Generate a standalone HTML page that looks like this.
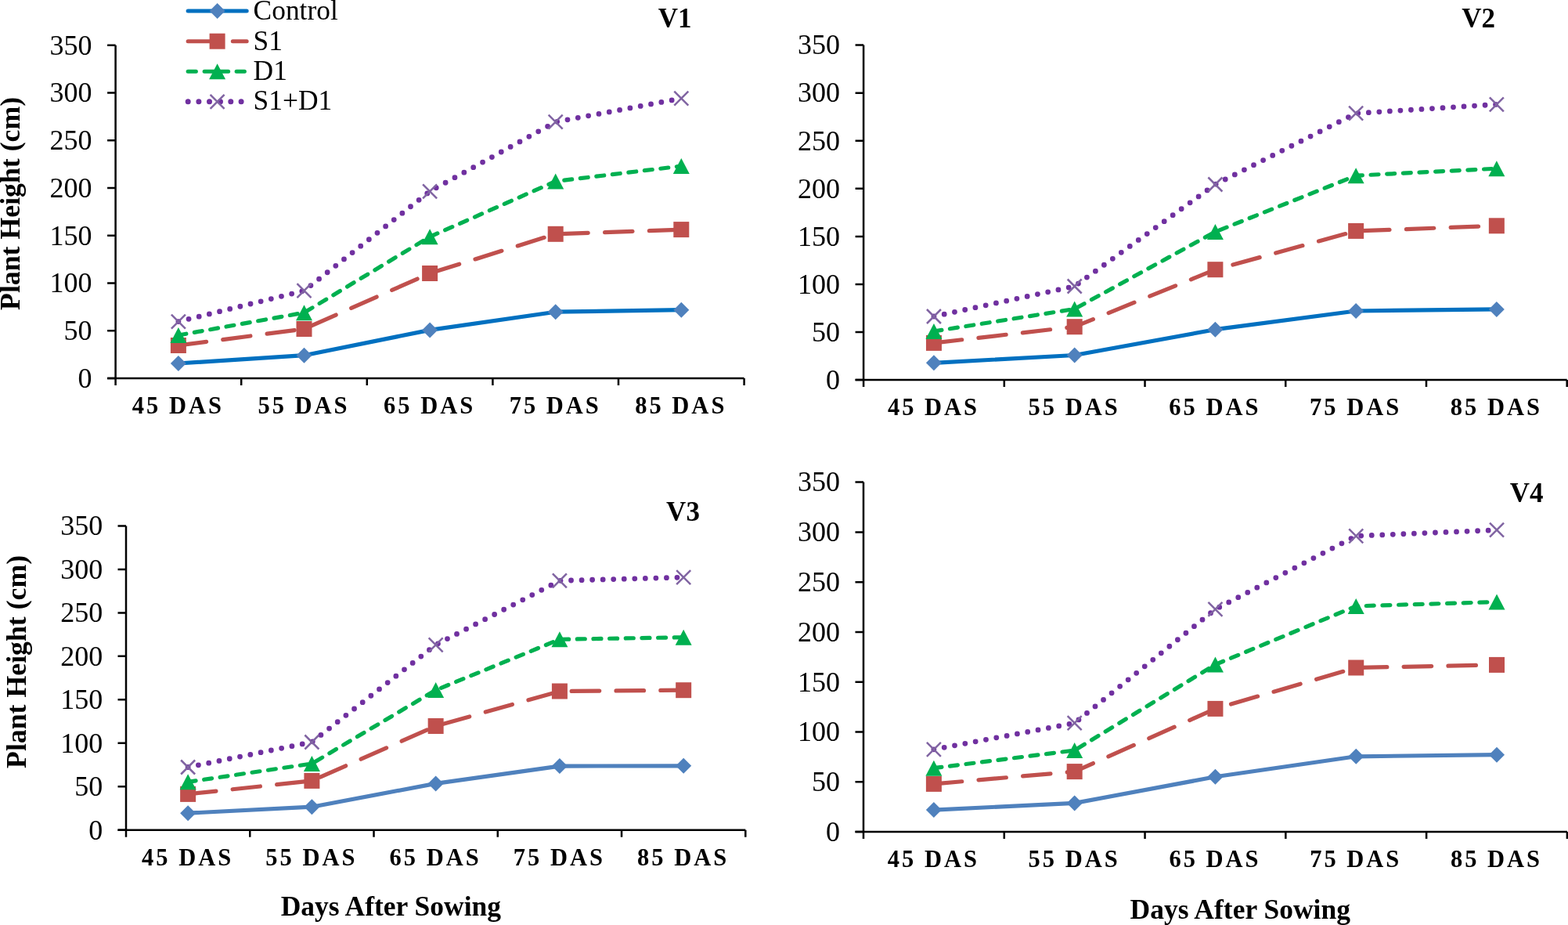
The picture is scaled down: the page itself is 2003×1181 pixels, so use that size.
<!DOCTYPE html><html><head><meta charset="utf-8"><title>Plant Height</title><style>html,body{margin:0;padding:0;background:#fff;overflow:hidden}svg{display:block}text{font-family:"Liberation Serif","Times New Roman",serif;fill:#000}.yl{font-size:36px;text-anchor:end}.xl{font-size:30.5px;font-weight:bold;letter-spacing:3px;text-anchor:middle}.tt{font-size:35px;font-weight:bold;text-anchor:middle}.at{font-size:35.75px;font-weight:bold;text-anchor:middle}.lg{font-size:35.4px}</style></head><body>
<svg width="2003" height="1181" viewBox="0 0 2003 1181">
<rect width="2003" height="1181" fill="#fff"/>
<g><path d="M147.6 57.8V483.1M137.1 483.1H950.6" stroke="#000" stroke-width="2.5" fill="none"/><path d="M137.1 483.1H147.6M137.1 422.34H147.6M137.1 361.59H147.6M137.1 300.83H147.6M137.1 240.07H147.6M137.1 179.31H147.6M137.1 118.56H147.6M137.1 57.8H147.6M147.6 483.1V492.1M308.2 483.1V492.1M468.8 483.1V492.1M629.4 483.1V492.1M790 483.1V492.1M950.6 483.1V492.1" stroke="#000" stroke-width="2.5" fill="none"/><text class="yl" x="117.5" y="494.9">0</text><text class="yl" x="117.5" y="434.14">50</text><text class="yl" x="117.5" y="373.39">100</text><text class="yl" x="117.5" y="312.63">150</text><text class="yl" x="117.5" y="251.87">200</text><text class="yl" x="117.5" y="191.11">250</text><text class="yl" x="117.5" y="130.36">300</text><text class="yl" x="117.5" y="69.6">350</text><text class="xl" x="227.4" y="528.1">45 DAS</text><text class="xl" x="388" y="528.1">55 DAS</text><text class="xl" x="548.6" y="528.1">65 DAS</text><text class="xl" x="709.2" y="528.1">75 DAS</text><text class="xl" x="869.8" y="528.1">85 DAS</text><polyline points="227.9,464 388.5,453.7 549.1,421.4 709.7,398.2 870.3,395.7" fill="none" stroke="#0070C0" stroke-width="5.2" stroke-linejoin="round" stroke-linecap="round"/><path d="M227.9 454L237.9 464L227.9 474L217.9 464Z" fill="#4F81BD"/><path d="M388.5 443.7L398.5 453.7L388.5 463.7L378.5 453.7Z" fill="#4F81BD"/><path d="M549.1 411.4L559.1 421.4L549.1 431.4L539.1 421.4Z" fill="#4F81BD"/><path d="M709.7 388.2L719.7 398.2L709.7 408.2L699.7 398.2Z" fill="#4F81BD"/><path d="M870.3 385.7L880.3 395.7L870.3 405.7L860.3 395.7Z" fill="#4F81BD"/><polyline points="227.9,441 388.5,420 549.1,349 709.7,298.8 870.3,293.1" fill="none" stroke="#C0504D" stroke-width="5.2" stroke-dasharray="35.5 21.32" stroke-dashoffset="-0.5" stroke-linejoin="round" stroke-linecap="round"/><rect x="217.9" y="431" width="20" height="20" fill="#C0504D"/><rect x="378.5" y="410" width="20" height="20" fill="#C0504D"/><rect x="539.1" y="339" width="20" height="20" fill="#C0504D"/><rect x="699.7" y="288.8" width="20" height="20" fill="#C0504D"/><rect x="860.3" y="283.1" width="20" height="20" fill="#C0504D"/><polyline points="227.9,428 388.5,399.2 549.1,302.3 709.7,231.5 870.3,212" fill="none" stroke="#00B050" stroke-width="5.2" stroke-dasharray="10 10.665" stroke-dashoffset="-0.1" stroke-linejoin="round" stroke-linecap="round"/><path d="M227.9 418L238.4 438L217.4 438Z" fill="#00B050"/><path d="M388.5 389.2L399 409.2L378 409.2Z" fill="#00B050"/><path d="M549.1 292.3L559.6 312.3L538.6 312.3Z" fill="#00B050"/><path d="M709.7 221.5L720.2 241.5L699.2 241.5Z" fill="#00B050"/><path d="M870.3 202L880.8 222L859.8 222Z" fill="#00B050"/><polyline points="227.9,410.6 388.5,371.2 549.1,244.3 709.7,155.7 870.3,125.7" fill="none" stroke="#7030A0" stroke-width="6.8" stroke-dasharray="0 13.548" stroke-linejoin="round" stroke-linecap="round"/><path d="M218.9 401.6L236.9 419.6M236.9 401.6L218.9 419.6" stroke="#8064A2" stroke-width="2.5" fill="none"/><path d="M379.5 362.2L397.5 380.2M397.5 362.2L379.5 380.2" stroke="#8064A2" stroke-width="2.5" fill="none"/><path d="M540.1 235.3L558.1 253.3M558.1 235.3L540.1 253.3" stroke="#8064A2" stroke-width="2.5" fill="none"/><path d="M700.7 146.7L718.7 164.7M718.7 146.7L700.7 164.7" stroke="#8064A2" stroke-width="2.5" fill="none"/><path d="M861.3 116.7L879.3 134.7M879.3 116.7L861.3 134.7" stroke="#8064A2" stroke-width="2.5" fill="none"/><text class="tt" x="862.1" y="34.9">V1</text></g>
<g><path d="M1103.1 57.6V485.1M1092.6 485.1H2001.7" stroke="#000" stroke-width="2.5" fill="none"/><path d="M1092.6 485.1H1103.1M1092.6 424.03H1103.1M1092.6 362.96H1103.1M1092.6 301.89H1103.1M1092.6 240.81H1103.1M1092.6 179.74H1103.1M1092.6 118.67H1103.1M1092.6 57.6H1103.1M1103.1 485.1V494.1M1282.82 485.1V494.1M1462.54 485.1V494.1M1642.26 485.1V494.1M1821.98 485.1V494.1M2001.7 485.1V494.1" stroke="#000" stroke-width="2.5" fill="none"/><text class="yl" x="1073" y="496.9">0</text><text class="yl" x="1073" y="435.83">50</text><text class="yl" x="1073" y="374.76">100</text><text class="yl" x="1073" y="313.69">150</text><text class="yl" x="1073" y="252.61">200</text><text class="yl" x="1073" y="191.54">250</text><text class="yl" x="1073" y="130.47">300</text><text class="yl" x="1073" y="69.4">350</text><text class="xl" x="1192.46" y="530.1">45 DAS</text><text class="xl" x="1372.18" y="530.1">55 DAS</text><text class="xl" x="1551.9" y="530.1">65 DAS</text><text class="xl" x="1731.62" y="530.1">75 DAS</text><text class="xl" x="1911.34" y="530.1">85 DAS</text><polyline points="1192.96,463.3 1372.68,453.5 1552.4,420.7 1732.12,397 1911.84,394.9" fill="none" stroke="#0070C0" stroke-width="5.2" stroke-linejoin="round" stroke-linecap="round"/><path d="M1192.96 453.3L1202.96 463.3L1192.96 473.3L1182.96 463.3Z" fill="#4F81BD"/><path d="M1372.68 443.5L1382.68 453.5L1372.68 463.5L1362.68 453.5Z" fill="#4F81BD"/><path d="M1552.4 410.7L1562.4 420.7L1552.4 430.7L1542.4 420.7Z" fill="#4F81BD"/><path d="M1732.12 387L1742.12 397L1732.12 407L1722.12 397Z" fill="#4F81BD"/><path d="M1911.84 384.9L1921.84 394.9L1911.84 404.9L1901.84 394.9Z" fill="#4F81BD"/><polyline points="1192.96,437.9 1372.68,417.2 1552.4,344.2 1732.12,294.9 1911.84,288.3" fill="none" stroke="#C0504D" stroke-width="5.2" stroke-dasharray="35.5 21.32" stroke-dashoffset="-0.5" stroke-linejoin="round" stroke-linecap="round"/><rect x="1182.96" y="427.9" width="20" height="20" fill="#C0504D"/><rect x="1362.68" y="407.2" width="20" height="20" fill="#C0504D"/><rect x="1542.4" y="334.2" width="20" height="20" fill="#C0504D"/><rect x="1722.12" y="284.9" width="20" height="20" fill="#C0504D"/><rect x="1901.84" y="278.3" width="20" height="20" fill="#C0504D"/><polyline points="1192.96,423 1372.68,394.5 1552.4,296 1732.12,224.2 1911.84,215.2" fill="none" stroke="#00B050" stroke-width="5.2" stroke-dasharray="10 10.665" stroke-dashoffset="-0.1" stroke-linejoin="round" stroke-linecap="round"/><path d="M1192.96 413L1203.46 433L1182.46 433Z" fill="#00B050"/><path d="M1372.68 384.5L1383.18 404.5L1362.18 404.5Z" fill="#00B050"/><path d="M1552.4 286L1562.9 306L1541.9 306Z" fill="#00B050"/><path d="M1732.12 214.2L1742.62 234.2L1721.62 234.2Z" fill="#00B050"/><path d="M1911.84 205.2L1922.34 225.2L1901.34 225.2Z" fill="#00B050"/><polyline points="1192.96,404 1372.68,365.5 1552.4,235.5 1732.12,144.7 1911.84,133.3" fill="none" stroke="#7030A0" stroke-width="6.8" stroke-dasharray="0 13.548" stroke-linejoin="round" stroke-linecap="round"/><path d="M1183.96 395L1201.96 413M1201.96 395L1183.96 413" stroke="#8064A2" stroke-width="2.5" fill="none"/><path d="M1363.68 356.5L1381.68 374.5M1381.68 356.5L1363.68 374.5" stroke="#8064A2" stroke-width="2.5" fill="none"/><path d="M1543.4 226.5L1561.4 244.5M1561.4 226.5L1543.4 244.5" stroke="#8064A2" stroke-width="2.5" fill="none"/><path d="M1723.12 135.7L1741.12 153.7M1741.12 135.7L1723.12 153.7" stroke="#8064A2" stroke-width="2.5" fill="none"/><path d="M1902.84 124.3L1920.84 142.3M1920.84 124.3L1902.84 142.3" stroke="#8064A2" stroke-width="2.5" fill="none"/><text class="tt" x="1888.6" y="35.2">V2</text></g>
<g><path d="M161 671.5V1059.7M150.5 1059.7H952.3" stroke="#000" stroke-width="2.5" fill="none"/><path d="M150.5 1059.7H161M150.5 1004.24H161M150.5 948.79H161M150.5 893.33H161M150.5 837.87H161M150.5 782.41H161M150.5 726.96H161M150.5 671.5H161M161 1059.7V1068.7M319.26 1059.7V1068.7M477.52 1059.7V1068.7M635.78 1059.7V1068.7M794.04 1059.7V1068.7M952.3 1059.7V1068.7" stroke="#000" stroke-width="2.5" fill="none"/><text class="yl" x="131.2" y="1071.5">0</text><text class="yl" x="131.2" y="1016.04">50</text><text class="yl" x="131.2" y="960.59">100</text><text class="yl" x="131.2" y="905.13">150</text><text class="yl" x="131.2" y="849.67">200</text><text class="yl" x="131.2" y="794.21">250</text><text class="yl" x="131.2" y="738.76">300</text><text class="yl" x="131.2" y="683.3">350</text><text class="xl" x="239.63" y="1104.7">45 DAS</text><text class="xl" x="397.89" y="1104.7">55 DAS</text><text class="xl" x="556.15" y="1104.7">65 DAS</text><text class="xl" x="714.41" y="1104.7">75 DAS</text><text class="xl" x="872.67" y="1104.7">85 DAS</text><polyline points="240.13,1038.2 398.39,1030.2 556.65,1000.4 714.91,978.1 873.17,977.8" fill="none" stroke="#4F81BD" stroke-width="5.2" stroke-linejoin="round" stroke-linecap="round"/><path d="M240.13 1028.2L250.13 1038.2L240.13 1048.2L230.13 1038.2Z" fill="#4F81BD"/><path d="M398.39 1020.2L408.39 1030.2L398.39 1040.2L388.39 1030.2Z" fill="#4F81BD"/><path d="M556.65 990.4L566.65 1000.4L556.65 1010.4L546.65 1000.4Z" fill="#4F81BD"/><path d="M714.91 968.1L724.91 978.1L714.91 988.1L704.91 978.1Z" fill="#4F81BD"/><path d="M873.17 967.8L883.17 977.8L873.17 987.8L863.17 977.8Z" fill="#4F81BD"/><polyline points="240.13,1013.9 398.39,996.9 556.65,927 714.91,882.5 873.17,881.2" fill="none" stroke="#C0504D" stroke-width="5.2" stroke-dasharray="35.5 21.32" stroke-dashoffset="-0.5" stroke-linejoin="round" stroke-linecap="round"/><rect x="230.13" y="1003.9" width="20" height="20" fill="#C0504D"/><rect x="388.39" y="986.9" width="20" height="20" fill="#C0504D"/><rect x="546.65" y="917" width="20" height="20" fill="#C0504D"/><rect x="704.91" y="872.5" width="20" height="20" fill="#C0504D"/><rect x="863.17" y="871.2" width="20" height="20" fill="#C0504D"/><polyline points="240.13,998.3 398.39,975 556.65,881.1 714.91,816.3 873.17,813.7" fill="none" stroke="#00B050" stroke-width="5.2" stroke-dasharray="10 10.665" stroke-dashoffset="-0.1" stroke-linejoin="round" stroke-linecap="round"/><path d="M240.13 988.3L250.63 1008.3L229.63 1008.3Z" fill="#00B050"/><path d="M398.39 965L408.89 985L387.89 985Z" fill="#00B050"/><path d="M556.65 871.1L567.15 891.1L546.15 891.1Z" fill="#00B050"/><path d="M714.91 806.3L725.41 826.3L704.41 826.3Z" fill="#00B050"/><path d="M873.17 803.7L883.67 823.7L862.67 823.7Z" fill="#00B050"/><polyline points="240.13,979.5 398.39,947.5 556.65,823.3 714.91,741.4 873.17,737.1" fill="none" stroke="#7030A0" stroke-width="6.8" stroke-dasharray="0 13.548" stroke-linejoin="round" stroke-linecap="round"/><path d="M231.13 970.5L249.13 988.5M249.13 970.5L231.13 988.5" stroke="#8064A2" stroke-width="2.5" fill="none"/><path d="M389.39 938.5L407.39 956.5M407.39 938.5L389.39 956.5" stroke="#8064A2" stroke-width="2.5" fill="none"/><path d="M547.65 814.3L565.65 832.3M565.65 814.3L547.65 832.3" stroke="#8064A2" stroke-width="2.5" fill="none"/><path d="M705.91 732.4L723.91 750.4M723.91 732.4L705.91 750.4" stroke="#8064A2" stroke-width="2.5" fill="none"/><path d="M864.17 728.1L882.17 746.1M882.17 728.1L864.17 746.1" stroke="#8064A2" stroke-width="2.5" fill="none"/><text class="tt" x="872.5" y="665">V3</text></g>
<g><path d="M1103 615.6V1062.1M1092.5 1062.1H2001.9" stroke="#000" stroke-width="2.5" fill="none"/><path d="M1092.5 1062.1H1103M1092.5 998.31H1103M1092.5 934.53H1103M1092.5 870.74H1103M1092.5 806.96H1103M1092.5 743.17H1103M1092.5 679.39H1103M1092.5 615.6H1103M1103 1062.1V1071.1M1282.78 1062.1V1071.1M1462.56 1062.1V1071.1M1642.34 1062.1V1071.1M1822.12 1062.1V1071.1M2001.9 1062.1V1071.1" stroke="#000" stroke-width="2.5" fill="none"/><text class="yl" x="1073" y="1073.9">0</text><text class="yl" x="1073" y="1010.11">50</text><text class="yl" x="1073" y="946.33">100</text><text class="yl" x="1073" y="882.54">150</text><text class="yl" x="1073" y="818.76">200</text><text class="yl" x="1073" y="754.97">250</text><text class="yl" x="1073" y="691.19">300</text><text class="yl" x="1073" y="627.4">350</text><text class="xl" x="1192.39" y="1107.1">45 DAS</text><text class="xl" x="1372.17" y="1107.1">55 DAS</text><text class="xl" x="1551.95" y="1107.1">65 DAS</text><text class="xl" x="1731.73" y="1107.1">75 DAS</text><text class="xl" x="1911.51" y="1107.1">85 DAS</text><polyline points="1192.89,1034.1 1372.67,1025.4 1552.45,991.8 1732.23,965.8 1912.01,963.7" fill="none" stroke="#4F81BD" stroke-width="5.2" stroke-linejoin="round" stroke-linecap="round"/><path d="M1192.89 1024.1L1202.89 1034.1L1192.89 1044.1L1182.89 1034.1Z" fill="#4F81BD"/><path d="M1372.67 1015.4L1382.67 1025.4L1372.67 1035.4L1362.67 1025.4Z" fill="#4F81BD"/><path d="M1552.45 981.8L1562.45 991.8L1552.45 1001.8L1542.45 991.8Z" fill="#4F81BD"/><path d="M1732.23 955.8L1742.23 965.8L1732.23 975.8L1722.23 965.8Z" fill="#4F81BD"/><path d="M1912.01 953.7L1922.01 963.7L1912.01 973.7L1902.01 963.7Z" fill="#4F81BD"/><polyline points="1192.89,1000.9 1372.67,985.1 1552.45,904.9 1732.23,852.5 1912.01,848.9" fill="none" stroke="#C0504D" stroke-width="5.2" stroke-dasharray="35.5 21.32" stroke-dashoffset="-0.5" stroke-linejoin="round" stroke-linecap="round"/><rect x="1182.89" y="990.9" width="20" height="20" fill="#C0504D"/><rect x="1362.67" y="975.1" width="20" height="20" fill="#C0504D"/><rect x="1542.45" y="894.9" width="20" height="20" fill="#C0504D"/><rect x="1722.23" y="842.5" width="20" height="20" fill="#C0504D"/><rect x="1902.01" y="838.9" width="20" height="20" fill="#C0504D"/><polyline points="1192.89,980.7 1372.67,958 1552.45,848.5 1732.23,773.9 1912.01,768.5" fill="none" stroke="#00B050" stroke-width="5.2" stroke-dasharray="10 10.665" stroke-dashoffset="-0.1" stroke-linejoin="round" stroke-linecap="round"/><path d="M1192.89 970.7L1203.39 990.7L1182.39 990.7Z" fill="#00B050"/><path d="M1372.67 948L1383.17 968L1362.17 968Z" fill="#00B050"/><path d="M1552.45 838.5L1562.95 858.5L1541.95 858.5Z" fill="#00B050"/><path d="M1732.23 763.9L1742.73 783.9L1721.73 783.9Z" fill="#00B050"/><path d="M1912.01 758.5L1922.51 778.5L1901.51 778.5Z" fill="#00B050"/><polyline points="1192.89,956.8 1372.67,923.2 1552.45,777.9 1732.23,684.3 1912.01,676.7" fill="none" stroke="#7030A0" stroke-width="6.8" stroke-dasharray="0 13.548" stroke-linejoin="round" stroke-linecap="round"/><path d="M1183.89 947.8L1201.89 965.8M1201.89 947.8L1183.89 965.8" stroke="#8064A2" stroke-width="2.5" fill="none"/><path d="M1363.67 914.2L1381.67 932.2M1381.67 914.2L1363.67 932.2" stroke="#8064A2" stroke-width="2.5" fill="none"/><path d="M1543.45 768.9L1561.45 786.9M1561.45 768.9L1543.45 786.9" stroke="#8064A2" stroke-width="2.5" fill="none"/><path d="M1723.23 675.3L1741.23 693.3M1741.23 675.3L1723.23 693.3" stroke="#8064A2" stroke-width="2.5" fill="none"/><path d="M1903.01 667.7L1921.01 685.7M1921.01 667.7L1903.01 685.7" stroke="#8064A2" stroke-width="2.5" fill="none"/><text class="tt" x="1950.1" y="640.8">V4</text></g>
<g><line x1="240.1" y1="14" x2="315.2" y2="14" stroke="#0070C0" stroke-width="5" stroke-linecap="round"/><path d="M277.6 4L287.6 14L277.6 24L267.6 14Z" fill="#4F81BD"/><path d="M240.1 52.7H277.6M297.3 52.7H315.2" stroke="#C0504D" stroke-width="5" stroke-linecap="round"/><rect x="267.6" y="42.7" width="20" height="20" fill="#C0504D"/><path d="M240.1 91.2H250.4M261.1 91.2H291.7M302.1 91.2H312.4" stroke="#00B050" stroke-width="5" stroke-linecap="round"/><path d="M277.6 81.2L288.1 101.2L267.1 101.2Z" fill="#00B050"/><path d="M240.2 129.8h0M253.9 129.8h0M267.5 129.8h0M281.5 129.8h0M294.8 129.8h0M308.1 129.8h0" stroke="#7030A0" stroke-width="7" stroke-linecap="round"/><path d="M268.6 120.8L286.6 138.8M286.6 120.8L268.6 138.8" stroke="#8064A2" stroke-width="2.5" fill="none"/><text class="lg" x="323.6" y="25.2">Control</text><text class="lg" x="323.6" y="63.6">S1</text><text class="lg" x="323.6" y="102.0">D1</text><text class="lg" x="323.6" y="140.4">S1+D1</text></g>
<text class="at" transform="translate(24.7 259.9) rotate(-90)">Plant Height (cm)</text>
<text class="at" transform="translate(32.8 844.9) rotate(-90)">Plant Height (cm)</text>
<text class="at" style="font-size:35.5px" x="499.4" y="1168.7">Days After Sowing</text>
<text class="at" style="font-size:35.5px" x="1584.2" y="1172.7">Days After Sowing</text>
</svg></body></html>
